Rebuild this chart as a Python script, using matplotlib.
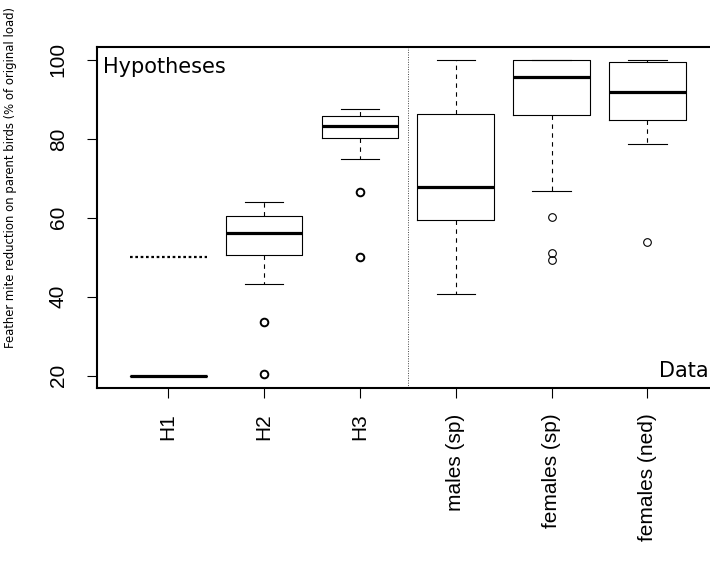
import matplotlib
matplotlib.use("Agg")
import matplotlib.pyplot as plt

# groups shown on the x axis
labels = ["H1", "H2", "H3", "males (sp)", "females (sp)", "females (ned)"]

# box summaries (% of original load)
whis_lo = [20.0, 43.3, 75.0, 40.7, 66.7, 78.8]
q1 = [20.0, 50.5, 80.1, 59.5, 86.0, 84.9]
median = [20.0, 56.1, 83.3, 67.7, 95.6, 92.0]
q3 = [20.0, 60.4, 85.7, 86.4, 100.0, 99.5]
whis_hi = [20.0, 64.0, 87.5, 100.0, 100.0, 100.0]
outliers = [[], [33.7, 20.4], [66.6, 50.0], [], [60.2, 51.2, 49.4], [53.9]]

# H1 second hypothesis level (dotted line)
h1_alt = 50.0

fig = plt.figure(figsize=(7.1, 5.62), dpi=100)
ax = fig.add_axes([97.3 / 710, 1 - 388.3 / 562, 621 / 710, 341 / 562])

stats = []
for i in range(len(labels)):
    stats.append(dict(med=median[i], q1=q1[i], q3=q3[i],
                      whislo=whis_lo[i], whishi=whis_hi[i], fliers=outliers[i]))

common = dict(widths=0.8, capwidths=0.4, manage_ticks=False,
              boxprops=dict(color="black", lw=0.8),
              whiskerprops=dict(color="black", lw=0.8, ls=(0, (4, 4))),
              capprops=dict(color="black", lw=0.8),
              medianprops=dict(color="black", lw=2.3, solid_capstyle="butt"))

# hypotheses: bolder outlier circles
ax.bxp(stats[:3], positions=[1, 2, 3],
       flierprops=dict(marker="o", markersize=5.5, markerfacecolor="none",
                       markeredgecolor="black", markeredgewidth=1.4), **common)
ax.bxp(stats[3:], positions=[4, 5, 6],
       flierprops=dict(marker="o", markersize=5.5, markerfacecolor="none",
                       markeredgecolor="black", markeredgewidth=0.8), **common)

ax.hlines(h1_alt, 0.6, 1.4, color="black", lw=1.6, ls=(0, (1.2, 1.2)))
ax.axvline(3.5, color="#444444", lw=0.7, ls=(0, (1, 1.5)))

ax.set_xlim(0.26, 6.74)
ax.set_ylim(16.8, 103.2)
ax.set_yticks([20, 40, 60, 80, 100])
ax.set_xticks(range(1, 7))
ax.set_xticklabels(labels, rotation=90, fontfamily="Liberation Sans", fontsize=15)
ax.set_yticklabels(["20", "40", "60", "80", "100"], rotation=90, va="center",
                   fontfamily="Liberation Sans", fontsize=15)
ax.tick_params(axis="both", length=7.2, width=0.8, color="black")
ax.tick_params(axis="x", pad=11)
ax.tick_params(axis="y", pad=14)
for s in ax.spines.values():
    s.set_linewidth(1.5)

ax.text(0.32, 96.8, "Hypotheses", fontsize=15, ha="left", va="baseline")
ax.text(6.635, 19.75, "Data", fontsize=15, ha="right", va="baseline")

fig.text(10.5 / 710, 1 - 178 / 562,
         "Feather mite reduction on parent birds (% of original load)",
         rotation=90, ha="center", va="center", fontsize=8.4)

fig.savefig("out.png", dpi=100)
